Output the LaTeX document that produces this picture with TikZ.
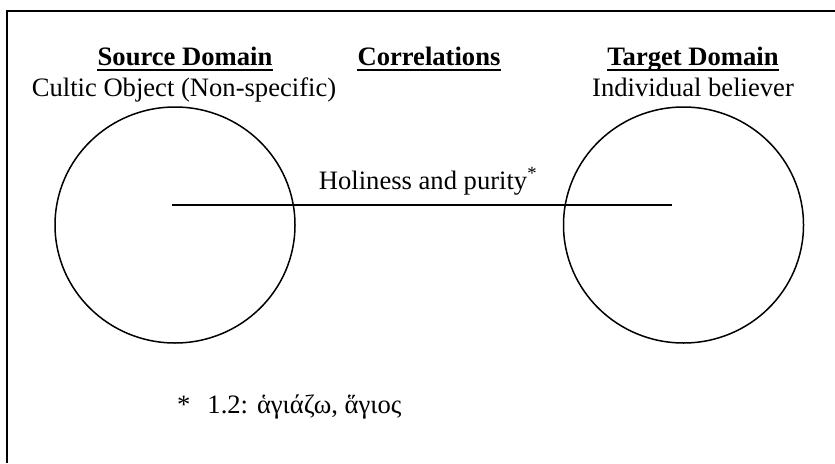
\documentclass[tikz,border=0pt]{standalone}
\usepackage{fontspec}
\setmainfont{Liberation Serif}
\newfontfamily\greekfont{Liberation Serif}
\usetikzlibrary{shapes.geometric}

\begin{document}
\begin{tikzpicture}[x=1pt,y=-1pt,
  plain text/.style={inner sep=0pt, anchor=base, font=\fontsize{26.6}{32}\selectfont},
  heading/.style={inner sep=0pt, anchor=base, font=\fontsize{26.6}{32}\selectfont\bfseries},
  domainshape/.style={draw, ellipse, line width=1.5pt, minimum width=240pt,
                 minimum height=236pt, inner sep=0pt},
  link/.style={line width=2pt},
  frame/.style={line width=2pt},
  headrule/.style={line width=2pt}]
\useasboundingbox (0,0) rectangle (835,463);

% open frame: top and left edges
\draw[frame] (7,463) -- (7,11) -- (835,11);

% column headings with underlines
\node[heading] (srchead) at (185,65) {Source Domain};
\node[heading] (corhead) at (429,65) {Correlations};
\node[heading] (tgthead) at (693,65) {Target Domain};
\foreach \h in {srchead,corhead,tgthead}
  \draw[headrule] ([yshift=-5.3pt]\h.base west) -- ([yshift=-5.3pt]\h.base east);

% domain descriptions
\node[plain text] (srcname) at (184,96) {Cultic Object (Non-specific)};
\node[plain text] (tgtname) at (693,96) {Individual believer};

% the two domains
\node[domainshape] (srcdom) at (175,225) {};
\node[domainshape] (tgtdom) at (683.5,225) {};

% correlation line
\coordinate (corrL) at (172,205);
\coordinate (corrR) at (672,205);
\draw[link] (corrL) -- (corrR);
\node[plain text] (corrlabel) at (428,189) {Holiness and purity\textsuperscript{*}};

% footnote
\node[plain text, anchor=base west] (note) at (177,413)
  {*\hspace{17pt}1.2: {\greekfont ἁγιάζω, ἅγιος}};
\end{tikzpicture}
\end{document}
